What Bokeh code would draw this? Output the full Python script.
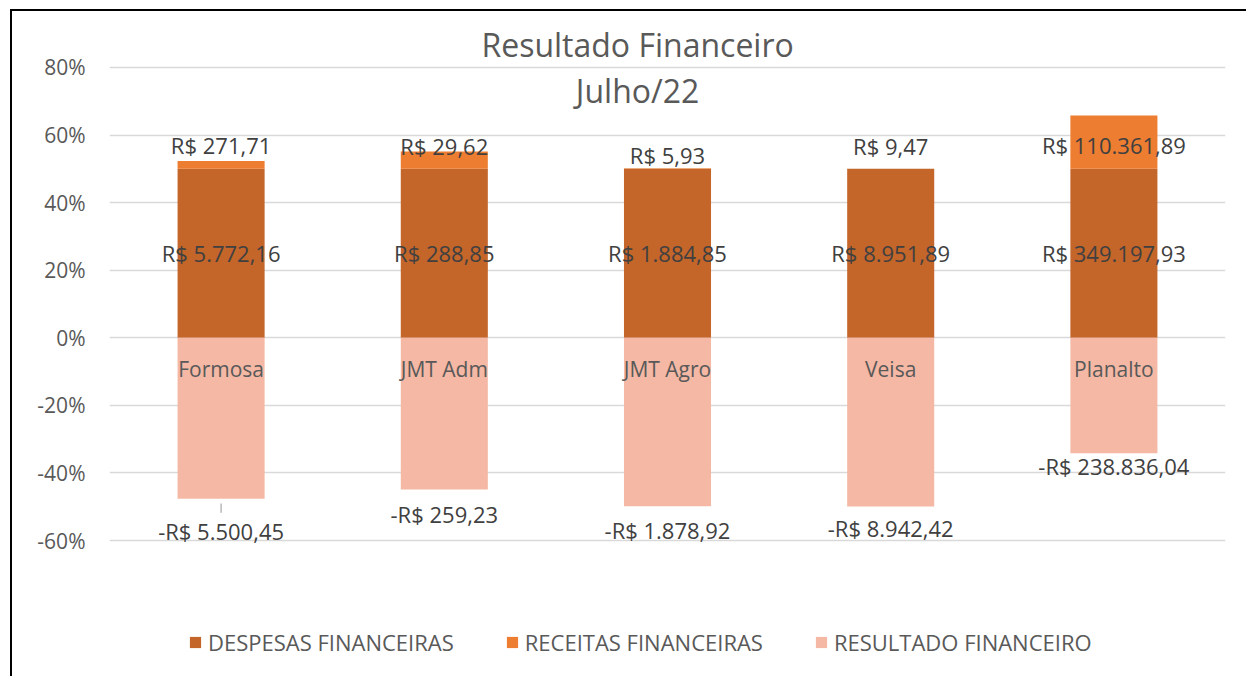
from bokeh.plotting import figure
from bokeh.models import (FactorRange, Range1d, FixedTicker, PrintfTickFormatter,
                          Legend, LegendItem, Label, ColumnDataSource)
from bokeh.core.properties import value
from bokeh.embed import file_html
from bokeh.resources import INLINE

# ---------------- data ----------------
categories = ["Formosa", "JMT Adm", "JMT Agro", "Veisa", "Planalto"]
despesas_brl = [5772.16, 288.85, 1884.85, 8951.89, 349197.93]
receitas_brl = [271.71, 29.62, 5.93, 9.47, 110361.89]
resultado_brl = [-5500.45, -259.23, -1878.92, -8942.42, -238836.04]
despesas_pct = [50.0, 50.0, 50.0, 50.0, 50.0]
receitas_pct = [2.35, 5.13, 0.16, 0.05, 15.80]
resultado_pct = [-47.65, -44.87, -49.84, -49.95, -34.20]
y_ticks = [-60, -40, -20, 0, 20, 40, 60, 80]
series_names = ["DESPESAS FINANCEIRAS", "RECEITAS FINANCEIRAS", "RESULTADO FINANCEIRO"]
title_lines = ["Resultado Financeiro", "Julho/22"]

# ---------------- layout / style ----------------
FONT = "Open Sans"
C_DESP, C_REC, C_RES = "#C4652A", "#ED7D31", "#F4B8A4"
rec_label_y = [57.1, 56.8, 54.2, 56.8, 57.1]
res_label_y = [-57.2, -52.1, -56.9, -56.2, -37.8]
cat_label_y = -9.2


def brl(v):
    s = f"{abs(v):,.2f}".replace(",", "X").replace(".", ",").replace("X", ".")
    return ("-" if v < 0 else "") + "R$ " + s


d_top = list(despesas_pct)
r_top = [d + r for d, r in zip(despesas_pct, receitas_pct)]
src = ColumnDataSource(dict(
    cat=categories, d_top=d_top, r_top=r_top, res=resultado_pct,
    d_mid=[d / 2 for d in despesas_pct],
    d_lab=[brl(v) for v in despesas_brl],
    r_lab=[brl(v) for v in receitas_brl],
    res_lab=[brl(v) for v in resultado_brl],
    r_y=rec_label_y, res_y=res_label_y,
    cat_y=[cat_label_y] * len(categories),
))

p = figure(x_range=FactorRange(*categories), y_range=Range1d(-100.83, 96.57),
           width=1236, height=667, output_backend="svg", toolbar_location=None,
           min_border_left=97, min_border_right=23, min_border_top=0, min_border_bottom=0)
p.styles = {"margin-top": "9px", "margin-left": "10px",
            "border-top": "2px solid black", "border-left": "2px solid black"}
p.outline_line_color = None
p.background_fill_color = "white"
p.border_fill_color = "white"

p.xaxis.visible = False
p.xgrid.grid_line_color = None
ya = p.yaxis[0]
ya.ticker = FixedTicker(ticks=y_ticks)
ya.formatter = PrintfTickFormatter(format="%d%%")
ya.axis_line_color = None
ya.major_tick_line_color = None
ya.minor_tick_line_color = None
ya.major_tick_out = 0
ya.major_tick_in = 0
ya.major_label_standoff = 24
ya.major_label_text_font = FONT
ya.major_label_text_font_size = "21px"
ya.major_label_text_color = "#595959"
p.ygrid.ticker = FixedTicker(ticks=y_ticks)
p.ygrid.grid_line_color = "#D9D9D9"
p.ygrid.grid_line_width = 1.5

W = 0.39
b1 = p.vbar(x="cat", bottom=0, top="d_top", width=W, fill_color=C_DESP, line_color=None, source=src)
b2 = p.vbar(x="cat", bottom="d_top", top="r_top", width=W, fill_color=C_REC, line_color=None, source=src)
b3 = p.vbar(x="cat", bottom="res", top=0, width=W, fill_color=C_RES, line_color=None, source=src)

# leader line for the first resultado label
p.segment(x0=[categories[0]], y0=[resultado_pct[0] - 1.4], x1=[categories[0]], y1=[resultado_pct[0] - 4.1],
          line_color="#A6A6A6", line_width=1.2)

lab_kw = dict(text_font=value(FONT), text_align="center", text_baseline="middle", source=src)
p.text(x="cat", y="d_mid", text="d_lab", text_font_size=value("22px"), text_color="#404040", **lab_kw)
p.text(x="cat", y="r_y", text="r_lab", text_font_size=value("22px"), text_color="#404040", **lab_kw)
p.text(x="cat", y="res_y", text="res_lab", text_font_size=value("22px"), text_color="#404040", **lab_kw)
p.text(x="cat", y="cat_y", text="cat", text_font_size=value("21px"), text_color="#595959", **lab_kw)

p.add_layout(Label(x=2.366, y=86.8, text=title_lines[0], text_align="center", text_baseline="middle",
                   text_font=FONT, text_font_size="32px", text_color="#595959"))
p.add_layout(Label(x=2.366, y=73.2, text=title_lines[1], text_align="center", text_baseline="middle",
                   text_font=FONT, text_font_size="32px", text_color="#595959"))

legend = Legend(items=[LegendItem(label=series_names[0], renderers=[b1]),
                       LegendItem(label=series_names[1], renderers=[b2]),
                       LegendItem(label=series_names[2], renderers=[b3])],
                orientation="horizontal", location=(79, 21),
                glyph_width=14, glyph_height=14, label_standoff=6, spacing=51,
                padding=0, margin=0, border_line_color=None, background_fill_alpha=0,
                label_text_font=FONT, label_text_font_size="22px", label_text_color="#595959")
p.add_layout(legend)

open("out.html", "w").write(file_html(p, INLINE))
